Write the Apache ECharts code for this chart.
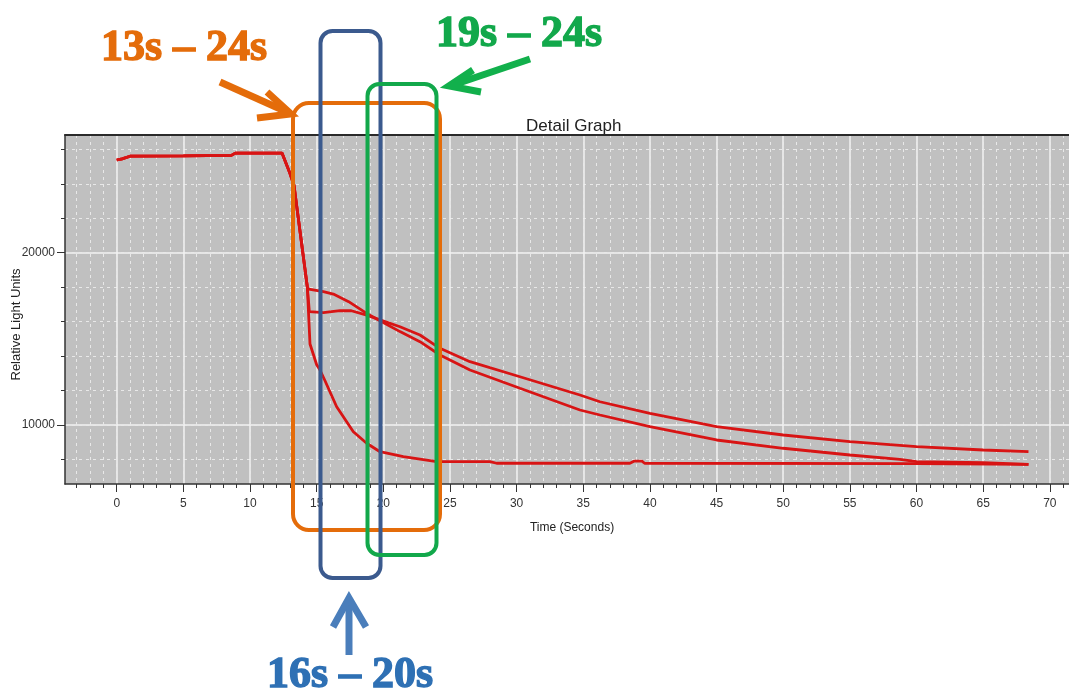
<!DOCTYPE html>
<html>
<head>
<meta charset="utf-8">
<script src="https://cdn.jsdelivr.net/npm/echarts@6/dist/echarts.min.js"></script>
<style>html,body{margin:0;padding:0;background:#fff}#c{width:1069px;height:693px}</style>
</head>
<body>
<div id="c"></div>
<script>
// ---- data ----
const commonTime = [0, 0.4, 1, 5, 8.6, 8.9, 12.4, 13.0, 13.3, 14.3];
const commonRLU  = [25380, 25450, 25600, 25620, 25650, 25780, 25780, 24600, 23900, 18000];

const aTime = [14.4, 15.5, 16.25, 17.4, 18.75, 19.75, 21.25, 22.75, 24.25, 26.5, 30.25, 34.75, 36.25, 40, 45, 50, 55, 58.75, 60, 65, 68.4];
const aRLU  = [17880, 17740, 17600, 17160, 16480, 16050, 15420, 14835, 14063, 13190, 12130, 10870, 10580, 9900, 9130, 8650, 8260, 8010, 7870, 7810, 7720];

const bTime = [14.45, 15.5, 16.75, 17.6, 18.75, 19.75, 21.25, 22.75, 24.25, 26.5, 30.25, 34.75, 36.25, 40, 45, 50, 55, 60, 65, 68.4];
const bRLU  = [16580, 16520, 16640, 16630, 16380, 16100, 15700, 15223, 14450, 13675, 12800, 11740, 11350, 10680, 9900, 9420, 9030, 8740, 8550, 8450];

const cTime = [14.5, 15.0, 15.25, 15.6, 16.5, 17.75, 18.75, 19.75, 21.5, 24, 28, 28.5, 38.5, 38.8, 39.4, 39.6, 60, 68.4];
const cRLU  = [14700, 13500, 13190, 12610, 11060, 9610, 8940, 8450, 8160, 7870, 7870, 7780, 7780, 7900, 7900, 7780, 7760, 7720];

const xTickLabels = [0, 5, 10, 15, 20, 25, 30, 35, 40, 45, 50, 55, 60, 65, 70];
const xMinorTicks = [-3,-2,-1,0,1,2,3,4,5,6,7,8,9,10,11,12,13,14,15,16,17,18,19,20,21,22,23,24,25,26,27,28,29,30,31,32,33,34,35,36,37,38,39,40,41,42,43,44,45,46,47,48,49,50,51,52,53,54,55,56,57,58,59,60,61,62,63,64,65,66,67,68,69,70,71];
const yTickLabels = [10000, 20000];
const yMinorTicks = [8000, 10000, 12000, 14000, 16000, 18000, 20000, 22000, 24000, 26000];

const xMin = -3.88, xMax = 71.44, yMin = 6576, yMax = 26831;

function curve(t, v) {
  const pts = [];
  for (let i = 0; i < commonTime.length; i++) pts.push([commonTime[i], commonRLU[i]]);
  for (let i = 0; i < t.length; i++) pts.push([t[i], v[i]]);
  return pts;
}

const FONT = '"Liberation Sans Narrow","Liberation Sans",Arial,sans-serif';
const SERIF = '"Liberation Serif","Times New Roman",serif';
const lineStyle = { color: '#d81414', width: 2.8 };
const plain = v => String(v);

const chart = echarts.init(document.getElementById('c'), null, { renderer: 'canvas' });
chart.setOption({
  animation: false,
  backgroundColor: '#ffffff',
  title: {
    text: 'Detail Graph', left: 521, top: 113,
    textStyle: { fontFamily: FONT, fontSize: 17, fontWeight: 'normal', color: '#222' }
  },
  grid: {
    left: 65, top: 135, right: 0, bottom: 209,
    show: true, backgroundColor: '#c0c0c0', borderWidth: 0,
    outerBoundsMode: 'none'
  },
  xAxis: [
    {
      type: 'value', min: xMin, max: xMax, position: 'bottom',
      name: 'Time (Seconds)', nameLocation: 'middle', nameGap: 38,
      nameTextStyle: { fontFamily: FONT, fontSize: 12, color: '#222', padding: [0, 0, 0, 10] },
      axisLine: { show: true, onZero: false, lineStyle: { color: '#333', width: 1.5 } },
      axisTick: { show: true, customValues: xTickLabels, length: 8, lineStyle: { color: '#333' } },
      axisLabel: { show: true, customValues: xTickLabels, formatter: plain, margin: 14, fontFamily: FONT, fontSize: 12, color: '#333' },
      splitLine: { show: true, lineStyle: { color: '#f2f2f2', width: 1.5 } }
    },
    {
      type: 'value', min: xMin, max: xMax, position: 'bottom',
      axisLine: { show: false, onZero: false },
      axisTick: { show: true, customValues: xMinorTicks, length: 4, lineStyle: { color: '#333' } },
      axisLabel: { show: false },
      splitLine: { show: true, lineStyle: { color: '#e8e8e8', width: 1, type: [3, 4] } }
    },
    {
      type: 'value', min: xMin, max: xMax, position: 'top',
      axisLine: { show: true, onZero: false, lineStyle: { color: '#2a2a2a', width: 2 } },
      axisTick: { show: false }, axisLabel: { show: false }, splitLine: { show: false }
    }
  ],
  yAxis: [
    {
      type: 'value', min: yMin, max: yMax, position: 'left',
      name: 'Relative Light Units', nameLocation: 'middle', nameGap: 42, nameMoveOverlap: false,
      nameTextStyle: { fontFamily: FONT, fontSize: 13, color: '#222', padding: [0, 30, 0, 0] },
      axisLine: { show: true, onZero: false, lineStyle: { color: '#333', width: 1.5 } },
      axisTick: { show: true, customValues: yTickLabels, length: 8, lineStyle: { color: '#333' } },
      axisLabel: { show: true, customValues: yTickLabels, formatter: plain, margin: 10, fontFamily: FONT, fontSize: 12, color: '#333' },
      splitLine: { show: true, lineStyle: { color: '#f2f2f2', width: 1.5 } }
    },
    {
      type: 'value', min: yMin, max: yMax, position: 'left',
      axisLine: { show: false, onZero: false },
      axisTick: { show: true, customValues: yMinorTicks, length: 4, lineStyle: { color: '#333' } },
      axisLabel: { show: false },
      splitLine: { show: true, lineStyle: { color: '#e8e8e8', width: 1, type: [3, 4] } }
    }
  ],
  series: [
    { name: 'A', type: 'line', xAxisIndex: 0, yAxisIndex: 0, showSymbol: false, lineStyle: lineStyle, data: curve(aTime, aRLU), z: 5 },
    { name: 'B', type: 'line', xAxisIndex: 0, yAxisIndex: 0, showSymbol: false, lineStyle: lineStyle, data: curve(bTime, bRLU), z: 5 },
    { name: 'C', type: 'line', xAxisIndex: 0, yAxisIndex: 0, showSymbol: false, lineStyle: lineStyle, data: curve(cTime, cRLU), z: 5 }
  ],
  graphic: [
    { type: 'rect', z: 100, shape: { x: 293, y: 103, width: 147, height: 427, r: 16 }, style: { fill: 'none', stroke: '#E46C0A', lineWidth: 4 } },
    { type: 'rect', z: 101, shape: { x: 320.5, y: 31, width: 60, height: 547, r: 12 }, style: { fill: 'none', stroke: '#3B5A8E', lineWidth: 4 } },
    { type: 'rect', z: 102, shape: { x: 367.5, y: 84, width: 69, height: 471, r: 12 }, style: { fill: 'none', stroke: '#12A84B', lineWidth: 4 } },

    { type: 'polyline', z: 103, shape: { points: [[220, 82], [287, 112]] }, style: { stroke: '#E46C0A', lineWidth: 7, fill: 'none' } },
    { type: 'polyline', z: 103, shape: { points: [[267, 92], [291, 114], [257, 118]] }, style: { stroke: '#E46C0A', lineWidth: 7, fill: 'none', lineJoin: 'miter' } },

    { type: 'polyline', z: 103, shape: { points: [[530, 59], [453, 85]] }, style: { stroke: '#12B04C', lineWidth: 7, fill: 'none' } },
    { type: 'polyline', z: 103, shape: { points: [[473, 70], [449, 86], [481, 92]] }, style: { stroke: '#12B04C', lineWidth: 7, fill: 'none', lineJoin: 'miter' } },

    { type: 'polyline', z: 103, shape: { points: [[349, 655], [349, 601]] }, style: { stroke: '#4A7EBB', lineWidth: 7, fill: 'none' } },
    { type: 'polyline', z: 103, shape: { points: [[333, 627], [349, 598], [366, 627]] }, style: { stroke: '#4A7EBB', lineWidth: 7, fill: 'none', lineJoin: 'miter' } },

    { type: 'text', z: 104, x: 184, y: 49, style: { text: '13s – 24s', fill: '#E46C0A', stroke: '#E46C0A', lineWidth: 1.4, fontFamily: SERIF, fontSize: 44, fontWeight: 'bold', align: 'center', verticalAlign: 'middle' } },
    { type: 'text', z: 104, x: 519, y: 35, style: { text: '19s – 24s', fill: '#12A84B', stroke: '#12A84B', lineWidth: 1.4, fontFamily: SERIF, fontSize: 44, fontWeight: 'bold', align: 'center', verticalAlign: 'middle' } },
    { type: 'text', z: 104, x: 350, y: 676, style: { text: '16s – 20s', fill: '#2E70B4', stroke: '#2E70B4', lineWidth: 1.4, fontFamily: SERIF, fontSize: 44, fontWeight: 'bold', align: 'center', verticalAlign: 'middle' } }
  ]
});
</script>
</body>
</html>
